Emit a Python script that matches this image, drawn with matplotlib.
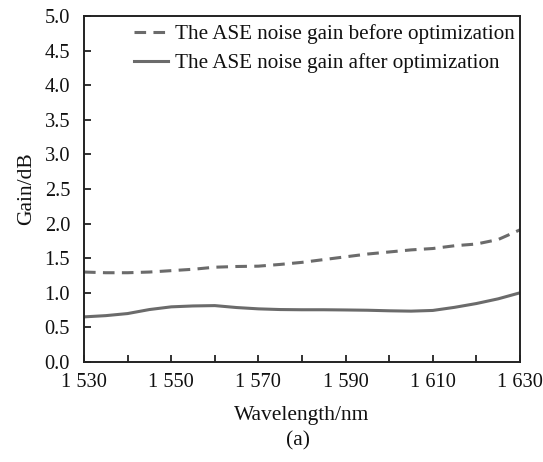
import matplotlib
matplotlib.use("Agg")
import matplotlib.pyplot as plt
from matplotlib.ticker import FixedLocator, MultipleLocator, FuncFormatter

plt.rcParams['font.family'] = ['Liberation Serif', 'DejaVu Serif']

# Wavelength grid (nm) and ASE noise gain (dB)
wavelength = [1530, 1535, 1540, 1545, 1550, 1555, 1560, 1565, 1570, 1575, 1580,
              1585, 1590, 1595, 1600, 1605, 1610, 1615, 1620, 1625, 1630]
gain_before = [1.30, 1.29, 1.29, 1.30, 1.32, 1.34, 1.37, 1.38, 1.385, 1.41, 1.44,
               1.48, 1.52, 1.56, 1.59, 1.62, 1.64, 1.68, 1.705, 1.77, 1.91]
gain_after = [0.652, 0.67, 0.70, 0.758, 0.797, 0.81, 0.815, 0.787, 0.768, 0.758, 0.755,
              0.755, 0.752, 0.748, 0.74, 0.735, 0.745, 0.79, 0.845, 0.913, 1.0]

x_ticks = [1530, 1550, 1570, 1590, 1610, 1630]
x_tick_labels = ["1 530", "1 550", "1 570", "1 590", "1 610", "1 630"]

label_before = "The ASE noise gain before optimization"
label_after = "The ASE noise gain after optimization"

W, H = 543, 462
fig = plt.figure(figsize=(W / 100, H / 100), dpi=100)
ax = fig.add_axes([84 / W, 1 - 362 / H, (520 - 84) / W, (362 - 16) / H])

line_color = "#6b6b6b"
ax.plot(wavelength, gain_before, color=line_color, lw=2.2, dashes=(3.8, 2.4),
        label=label_before)
ax.plot(wavelength, gain_after, color=line_color, lw=2.2, label=label_after)

ax.set_xlim(1530, 1630)
ax.set_ylim(0, 5.0)
ax.xaxis.set_major_locator(FixedLocator(x_ticks))
ax.set_xticklabels(x_tick_labels)
ax.xaxis.set_minor_locator(MultipleLocator(10))
ax.yaxis.set_major_locator(MultipleLocator(0.5))
ax.yaxis.set_major_formatter(FuncFormatter(lambda v, p: f"{v:.1f}"))

ax.tick_params(axis='both', which='both', direction='in', labelsize=14.7,
               width=1.3, color='#222222', labelcolor='#111111')
ax.tick_params(axis='both', which='major', length=5)
ax.tick_params(axis='x', which='minor', length=5)
ax.tick_params(axis='y', which='major', pad=10)
ax.tick_params(axis='x', which='major', pad=8)
for s in ax.spines.values():
    s.set_linewidth(1.4)
    s.set_color('#222222')

ax.set_ylabel("Gain/dB", fontsize=15.5, labelpad=6, color='#111111')
ax.set_xlabel("Wavelength/nm", fontsize=15.5, labelpad=10, color='#111111')

leg = ax.legend(loc='upper right', bbox_to_anchor=(515 / W, 1 - 24 / H),
                bbox_transform=fig.transFigure, frameon=False, fontsize=15.2,
                handlelength=1.6, handletextpad=0.35, labelspacing=0.45,
                borderaxespad=0, borderpad=0)
for t in leg.get_texts():
    t.set_color('#111111')

fig.text(298 / W, 1 - 441 / H, "(a)", ha='center', va='center', fontsize=15.5,
         color='#111111')

fig.savefig("out.png", dpi=100)
